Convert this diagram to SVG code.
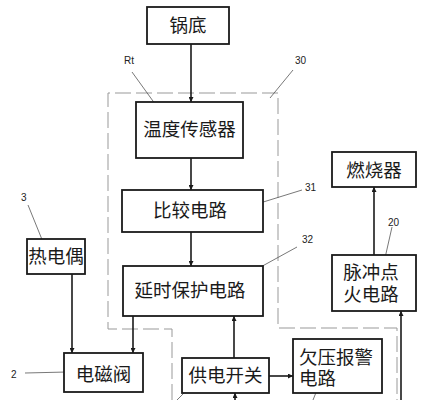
<svg xmlns="http://www.w3.org/2000/svg" width="430" height="400" viewBox="0 0 430 400">
<defs>
<style>
.box{fill:#fff;stroke:#1a1a1a;stroke-width:1.8}
.t{font-family:"Liberation Sans","Noto Sans CJK SC",sans-serif;font-size:18.5px;fill:#1a1a1a}
.c{text-anchor:middle}
.n{font-family:"Liberation Sans",sans-serif;font-size:10px;fill:#222}
.lead{stroke:#555;stroke-width:0.8;fill:none}
.ar{stroke:#1a1a1a;stroke-width:1.6;fill:none;marker-end:url(#ah)}
.dash{stroke:#999;stroke-width:1;fill:none;stroke-dasharray:16 5}
</style>
<marker id="ah" viewBox="0 0 10 10" refX="10" refY="5" markerWidth="8" markerHeight="5" markerUnits="userSpaceOnUse" orient="auto"><path d="M0,0 L10,5 L0,10 z" fill="#1a1a1a"/></marker>
</defs>
<rect width="430" height="400" fill="#fff"/>
<polyline class="dash" points="172,400 172,329 108,329 108,93 278,93 278,328 397,328 397,400"/>
<g id="connectors">
<line class="ar" x1="191" y1="44" x2="191" y2="102"/>
<line class="ar" x1="191" y1="158" x2="191" y2="190"/>
<line class="ar" x1="191" y1="232" x2="191" y2="266"/>
<line class="ar" x1="72" y1="274" x2="72" y2="353"/>
<line class="ar" x1="133" y1="316" x2="133" y2="353"/>
<line class="ar" x1="234" y1="358" x2="234" y2="316"/>
<line class="ar" x1="235" y1="400" x2="235" y2="393"/>
<line class="ar" x1="269" y1="376" x2="293" y2="376"/>
<line class="ar" x1="374" y1="255" x2="374" y2="187"/>
<line class="ar" x1="401" y1="400" x2="401" y2="311"/>
</g>
<g id="leaders">
<line class="lead" x1="132" y1="72" x2="158" y2="108"/>
<line class="lead" x1="293" y1="70" x2="270" y2="98"/>
<line class="lead" x1="302" y1="190" x2="260" y2="203"/>
<line class="lead" x1="297" y1="247" x2="257" y2="269"/>
<line class="lead" x1="28" y1="205" x2="43" y2="242"/>
<line class="lead" x1="25" y1="373" x2="67" y2="372"/>
<line class="lead" x1="392" y1="227" x2="385" y2="258"/>
<line class="lead" x1="192" y1="385" x2="177" y2="400"/>
<line class="lead" x1="317" y1="390" x2="313" y2="400"/>
<text class="n" x="124" y="64">Rt</text>
<text class="n" x="295" y="64">30</text>
<text class="n" x="305" y="191">31</text>
<text class="n" x="302" y="243">32</text>
<text class="n" x="21" y="201">3</text>
<text class="n" x="11" y="378">2</text>
<text class="n" x="388" y="226">20</text>
</g>
<g id="guodi"><rect class="box" x="147" y="7" width="82" height="37"/><text class="t c" x="188" y="32">锅底</text></g>
<g id="wendu"><rect class="box" x="136" y="102" width="107" height="56"/><text class="t c" x="189.5" y="136">温度传感器</text></g>
<g id="bijiao"><rect class="box" x="122" y="190" width="141" height="42"/><text class="t c" x="190" y="217">比较电路</text></g>
<g id="yanshi"><rect class="box" x="123" y="266" width="140" height="50"/><text class="t c" x="190" y="297">延时保护电路</text></g>
<g id="redianou"><rect class="box" x="27" y="239" width="58" height="35"/><text class="t c" x="56" y="263">热电偶</text></g>
<g id="diancifa"><rect class="box" x="64" y="353" width="79" height="39"/><text class="t c" x="103.5" y="381">电磁阀</text></g>
<g id="gongdian"><rect class="box" x="182" y="358" width="87" height="35"/><text class="t c" x="225.5" y="382">供电开关</text></g>
<g id="qianya"><rect class="box" x="293" y="339" width="89" height="54"/><text class="t" x="299" y="364">欠压报警</text><text class="t" x="299" y="385">电路</text></g>
<g id="ranshao"><rect class="box" x="332" y="152" width="84" height="35"/><text class="t c" x="374" y="177">燃烧器</text></g>
<g id="maichong"><rect class="box" x="332" y="255" width="84" height="56"/><text class="t c" x="371" y="279">脉冲点</text><text class="t c" x="371" y="301">火电路</text></g>
</svg>
